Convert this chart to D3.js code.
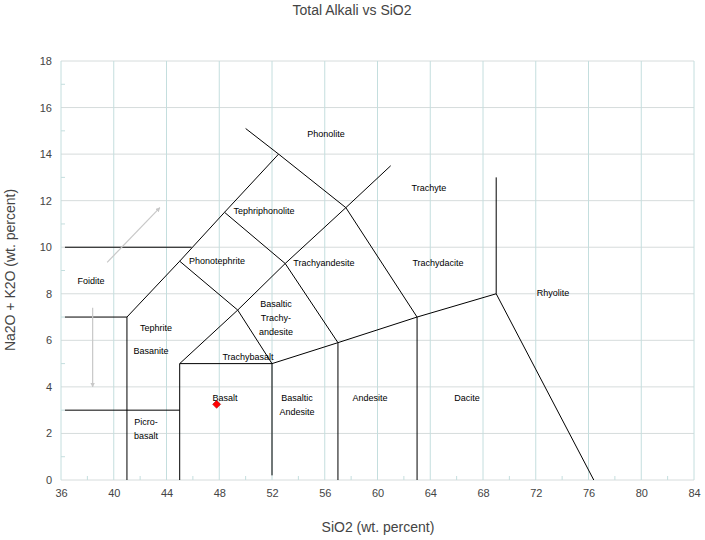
<!DOCTYPE html>
<html><head><meta charset="utf-8">
<script src="https://cdn.jsdelivr.net/npm/d3@7"></script>
<style>body{margin:0;background:#fff;font-family:"Liberation Sans",Arial,sans-serif;}</style>
</head><body><svg id="c" width="705" height="540"></svg>
<script>
const xTicks=[36,40,44,48,52,56,60,64,68,72,76,80,84];
const yTicks=[0,2,4,6,8,10,12,14,16,18];
const boundaries=[
 [[36.3,10],[45.9,10]],
 [[36.3,7],[41,7],[41,0]],
 [[36.3,3],[45,3]],
 [[45,0],[45,5],[52,5]],
 [[41,7],[45,9.4],[48.4,11.5],[52.5,14],[50,15.1]],
 [[45,5],[49.4,7.3],[53,9.3],[57.6,11.7],[61,13.5]],
 [[52.5,14],[57.6,11.7],[63,7],[69,8],[69,13]],
 [[69,8],[76.4,0]],
 [[45,9.4],[49.4,7.3],[52,5],[52,0.2]],
 [[52,5],[57,5.9],[63,7],[63,0]],
 [[57,0],[57,5.9],[53,9.3],[48.4,11.5]]
];
const labels=[
 ["Phonolite",56.1,14.73],["Trachyte",63.9,12.41],["Tephriphonolite",51.4,11.43],
 ["Phonotephrite",47.83,9.28],["Trachyandesite",55.94,9.19],["Trachydacite",64.59,9.19],
 ["Foidite",38.27,8.42],["Rhyolite",73.31,7.9],["Tephrite",43.2,6.4],
 ["Basaltic",52.3,7.43],["Trachy-",52.3,6.83],["andesite",52.3,6.23],
 ["Basanite",42.82,5.41],["Trachybasalt",50.18,5.16],["Basalt",48.44,3.39],
 ["Basaltic",53.9,3.39],["Andesite",53.9,2.79],["Andesite",59.43,3.39],
 ["Dacite",66.79,3.39],["Picro-",42.45,2.36],["basalt",42.45,1.76]
];
const samples=[[47.8,3.25]];
const arrows=[[[39.5,9.35],[43.5,11.7]],[[38.4,7.4],[38.4,4.0]]];

const svg=d3.select("#c");
const x=d3.scaleLinear().domain([36,84]).range([61,694]);
const y=d3.scaleLinear().domain([0,18]).range([480,61]);
const gridV="#c4dede", gridH="#d6dcdc";
svg.append("defs").append("marker").attr("id","ah").attr("viewBox","0 0 10 10").attr("refX",9).attr("refY",5)
 .attr("markerWidth",4).attr("markerHeight",4).attr("orient","auto")
 .append("path").attr("d","M0,0L10,5L0,10z").attr("fill","#c8c8c8");
const g=svg.append("g");
yTicks.forEach(t=>{g.append("line").attr("x1",x(36)).attr("x2",x(84)).attr("y1",y(t)).attr("y2",y(t)).attr("stroke",gridH);});
xTicks.forEach(t=>{g.append("line").attr("x1",x(t)).attr("x2",x(t)).attr("y1",y(0)).attr("y2",y(18)).attr("stroke",gridV);});
d3.range(38,84,4).forEach(t=>g.append("line").attr("x1",x(t)).attr("x2",x(t)).attr("y1",y(0)).attr("y2",y(0)-4).attr("stroke",gridV));
d3.range(1,18,2).forEach(t=>g.append("line").attr("x1",x(36)).attr("x2",x(36)+4).attr("y1",y(t)).attr("y2",y(t)).attr("stroke",gridV));
const xa=svg.append("g").attr("transform","translate(0,480)").call(d3.axisBottom(x).tickValues(xTicks).tickSize(0).tickPadding(9));
const ya=svg.append("g").attr("transform","translate(61,0)").call(d3.axisLeft(y).tickValues(yTicks).tickSize(0).tickPadding(9));
[xa,ya].forEach(a=>{a.select(".domain").remove();a.selectAll("text").attr("fill","#444").attr("font-size",11).attr("font-family","Liberation Sans, Arial");});
const line=d3.line().x(d=>x(d[0])).y(d=>y(d[1]));
boundaries.forEach(b=>svg.append("path").attr("d",line(b)).attr("fill","none").attr("stroke","#000").attr("stroke-width",1));
arrows.forEach(a=>svg.append("path").attr("d",line(a)).attr("stroke","#c8c8c8").attr("stroke-width",1.2).attr("marker-end","url(#ah)"));
labels.forEach(l=>svg.append("text").attr("x",x(l[1])).attr("y",y(l[2])).attr("text-anchor","middle").attr("font-size",9).attr("fill","#000").text(l[0]));
samples.forEach(s=>svg.append("path").attr("d",d3.symbol(d3.symbolSquare,32)()).attr("transform",`translate(${x(s[0])},${y(s[1])}) rotate(45)`).attr("fill","#f00").attr("stroke","#a00").attr("stroke-width",0.5));
svg.append("text").attr("x",352).attr("y",15).attr("text-anchor","middle").attr("font-size",14).attr("fill","#444").text("Total Alkali vs SiO2");
svg.append("text").attr("x",378).attr("y",532).attr("text-anchor","middle").attr("font-size",14).attr("fill","#444").text("SiO2 (wt. percent)");
svg.append("text").attr("transform","translate(15,270) rotate(-90)").attr("text-anchor","middle").attr("font-size",14).attr("fill","#444").text("Na2O + K2O (wt. percent)");
</script></body></html>
